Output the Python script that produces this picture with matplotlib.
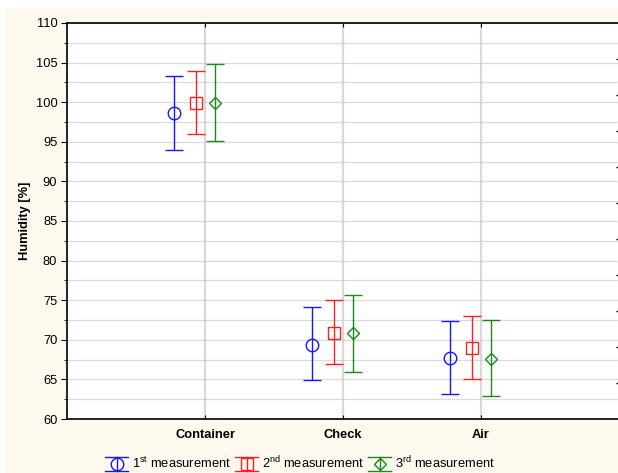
import matplotlib.pyplot as plt
from matplotlib.legend_handler import HandlerBase
from matplotlib.lines import Line2D
from matplotlib.patches import Rectangle

plt.rcParams['font.family'] = ['Liberation Sans', 'DejaVu Sans']
plt.rcParams['mathtext.default'] = 'regular'

categories = ["Container", "Check", "Air"]
series_labels = ["1$^{st}$ measurement", "2$^{nd}$ measurement", "3$^{rd}$ measurement"]
colors = ["#1515ff", "#ff2020", "#1a8a1a"]
markers = ["o", "s", "D"]

# means and lower/upper bounds of the whiskers
mean_1 = [98.6, 69.3, 67.7]
low_1 = [94.0, 64.9, 63.2]
high_1 = [103.3, 74.1, 72.4]

mean_2 = [99.9, 70.9, 69.0]
low_2 = [96.0, 67.0, 65.1]
high_2 = [104.0, 75.0, 73.0]

mean_3 = [99.9, 70.8, 67.6]
low_3 = [95.1, 65.9, 62.9]
high_3 = [104.8, 75.6, 72.5]

means = [mean_1, mean_2, mean_3]
lows = [low_1, low_2, low_3]
highs = [high_1, high_2, high_3]
offsets = [-0.224, -0.068, 0.074]


class ErrHandler(HandlerBase):
    def __init__(self, color, marker, msize):
        super().__init__()
        self.color = color
        self.marker = marker
        self.msize = msize

    def create_artists(self, legend, orig_handle, xdescent, ydescent,
                       width, height, fontsize, trans):
        x0, x1 = -xdescent, -xdescent + width
        y0, y1 = -ydescent - 0.2 * height, -ydescent + 1.15 * height
        xm = (x0 + x1) / 2
        ym = (y0 + y1) / 2
        arts = [
            Line2D([x0, x1], [y0, y0], color=self.color, lw=1.0),
            Line2D([x0, x1], [y1, y1], color=self.color, lw=1.0),
            Line2D([xm, xm], [y0, y1], color=self.color, lw=1.0),
            Line2D([xm], [ym], marker=self.marker, color=self.color,
                   mfc="none", ms=self.msize, mew=1.0, ls="none"),
        ]
        for a in arts:
            a.set_transform(trans)
        return arts


fig = plt.figure(figsize=(6.18, 4.73), dpi=100)
fig.patch.set_facecolor("white")
fig.patches.append(Rectangle((5 / 618, 0), 1, 1 - 8 / 473, transform=fig.transFigure,
                             facecolor="#fdf9ef", edgecolor="none", zorder=-5))

ax = fig.add_axes([67 / 618, 1 - 419 / 473, 552 / 618, 396 / 473])
ax.set_facecolor("white")

xs = list(range(1, len(categories) + 1))
handles = []
for i in range(3):
    xp = [x + offsets[i] for x in xs]
    yerr = [[m - lo for m, lo in zip(means[i], lows[i])],
            [hi - m for m, hi in zip(means[i], highs[i])]]
    ms = 9 if markers[i] == "o" else (8.5 if markers[i] == "s" else 6.5)
    ax.errorbar(xp, means[i], yerr=yerr, fmt=markers[i], color=colors[i],
                mfc="none", mec=colors[i], ms=ms, mew=1.0, elinewidth=1.0,
                capsize=6.5, capthick=1.0, zorder=3)
    handles.append(Line2D([], [], color=colors[i]))

ax.set_xlim(0, 4)
ax.set_ylim(60, 110)
ax.set_xticks(xs)
ax.set_xticklabels(categories, fontsize=9.3, fontweight="bold")
ax.set_yticks(range(60, 111, 5))
ax.set_yticks([60 + 2.5 + 5 * k for k in range(10)], minor=True)
ax.tick_params(axis="y", which="major", direction="out", length=4, labelsize=9.3, pad=3)
ax.tick_params(axis="y", which="minor", direction="out", length=2)
ax.tick_params(axis="x", direction="in", length=3, top=True, labelsize=9.3, pad=7)

ax.grid(True, which="both", axis="y", color="#c6c6c6", ls=(0, (1, 0.6)), lw=0.9)
ax.grid(True, which="major", axis="x", color="#d9d9d9", ls="-", lw=1.6)
ax.set_axisbelow(True)
for s in ["left", "bottom", "top"]:
    ax.spines[s].set_linewidth(1.2)
    ax.spines[s].set_color("black")
ax.spines["right"].set_visible(False)

ax.set_ylabel("Humidity [%]", fontsize=9.3, fontweight="bold", labelpad=3)

# small inward marks on the right edge
ax2 = ax.twinx()
ax2.set_ylim(0, 11)
ax2.set_yticks(range(1, 11))
ax2.set_yticklabels([])
ax2.tick_params(axis="y", direction="in", length=2, width=1.0,
                right=True, labelright=False, pad=0)
for s in ax2.spines.values():
    s.set_visible(False)

handler_map = {h: ErrHandler(c, m, s) for h, c, m, s in
               zip(handles, colors, markers, [9, 9, 6.5])}
fig.legend(handles, series_labels, handler_map=handler_map, loc="center",
           bbox_to_anchor=(300 / 618, 1 - 463 / 473), ncol=3, frameon=False,
           fontsize=9.3, handlelength=1.8, handletextpad=0.3, columnspacing=0.3,
           handleheight=0.9)

fig.savefig("out.png", dpi=100, facecolor=fig.get_facecolor())
